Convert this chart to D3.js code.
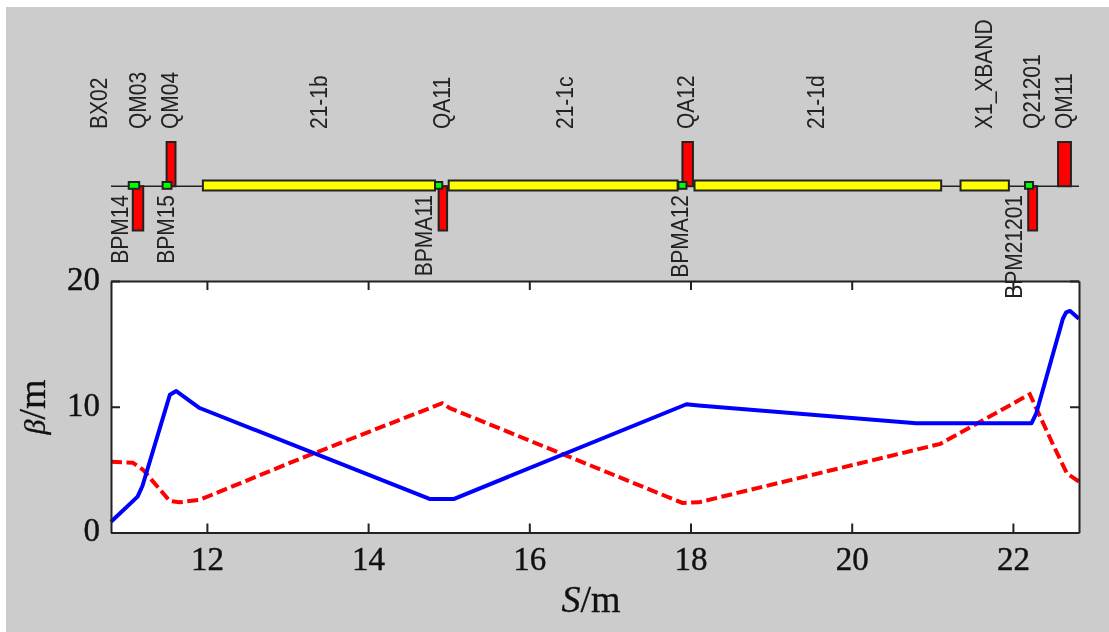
<!DOCTYPE html>
<html>
<head>
<meta charset="utf-8" />
<title>Beta functions</title>
<style>
    html, body { margin: 0; padding: 0; background: #fff; }
    svg { filter: blur(0.4px); }
    .tick text { font-family: "Liberation Serif", serif; font-size: 33px; fill: #111; stroke: #111; stroke-width: 0.4px; }
    .lab { font-family: "Liberation Sans", Arial, sans-serif; font-size: 21px; fill: #222; }
    .title { font-family: "Liberation Serif", serif; font-size: 38px; fill: #111; stroke: #111; stroke-width: 0.3px; }
</style>
</head>
<body>
<div id="graphic"></div>
<script src="https://cdn.jsdelivr.net/npm/d3@7"></script>
<script>
// beta x (blue)
var blueS = [10.81, 11.14, 11.2, 11.54, 11.62, 11.91, 14.77, 15.06, 17.95, 18.1, 20.8, 22.23, 22.29, 22.62, 22.66, 22.71, 22.82];
var blueB = [0.85, 2.85, 3.7, 10.95, 11.25, 9.9, 2.66, 2.66, 10.2, 10.1, 8.68, 8.68, 9.48, 17.0, 17.5, 17.62, 17.0];
// beta y (red dashed)
var redS = [10.81, 11.08, 11.21, 11.54, 11.66, 11.91, 13.15, 14.92, 15.01, 17.9, 18.1, 21.1, 22.21, 22.31, 22.5, 22.67, 22.82];
var redB = [5.63, 5.55, 4.97, 2.5, 2.4, 2.6, 5.85, 10.28, 9.9, 2.35, 2.4, 7.05, 11.0, 9.6, 6.96, 4.7, 4.05];

var xTicks = [12, 14, 16, 18, 20, 22];
var yTicks = [0, 10, 20];

// beamline elements, [start, end] in S
var yellowStart = [11.95, 15.0, 18.05, 21.35];
var yellowEnd = [14.83, 17.84, 21.11, 21.95];

var upStart = [11.50, 17.90, 22.56];
var upEnd = [11.61, 18.03, 22.72];

var downStart = [11.08, 14.875, 22.19];
var downEnd = [11.21, 14.98, 22.30];

var bpmNames = ["BPM14", "BPM15", "BPMA11", "BPMA12", "BPM21201"];
var bpmStart = [11.03, 11.45, 14.83, 17.85, 22.15];
var bpmEnd = [11.16, 11.56, 14.92, 17.95, 22.25];

// label positions along S
var topNames = ["BX02", "QM03", "QM04", "21-1b", "QA11", "21-1c", "QA12", "21-1d", "X1_XBAND", "Q21201", "QM11"];
var topS = [10.756, 11.25, 11.64, 13.485, 15.015, 16.54, 18.04, 19.655, 21.74, 22.335, 22.73];
var botS = [11.02, 11.59, 14.79, 17.97, 22.11];

var width = 1109, height = 632;
var left = 111, right = 1079, top_ = 281, bottom = 532.5;

var svg = d3.select("#graphic").append("svg")
    .attr("width", width)
    .attr("height", height)
    .style("display", "block");

svg.append("rect")
    .attr("x", 6).attr("y", 7)
    .attr("width", width - 6).attr("height", height - 7)
    .attr("fill", "#cccccc");

var x = d3.scaleLinear().domain([10.81, 22.82]).range([left, right]);
var y = d3.scaleLinear().domain([0, 20]).range([bottom, top_]);
// beamline strip, same S scale, arbitrary height units
var lineY = d3.scaleLinear().domain([-1, 1]).range([230.5, 142]);

svg.append("rect")
    .attr("x", left).attr("y", top_)
    .attr("width", right - left).attr("height", bottom - top_)
    .attr("fill", "#fff");

var line = d3.line()
    .x(function (d) { return x(d[0]); })
    .y(function (d) { return y(d[1]); });

svg.append("path")
    .attr("d", line(d3.zip(redS, redB)))
    .attr("fill", "none")
    .attr("stroke", "#ff0000")
    .attr("stroke-width", 4)
    .attr("stroke-dasharray", "11,4.5");

svg.append("path")
    .attr("d", line(d3.zip(blueS, blueB)))
    .attr("fill", "none")
    .attr("stroke", "#0000ff")
    .attr("stroke-width", 4)
    .attr("stroke-linejoin", "round");

// axes, ticks point inward on all four sides
function styleAxis(g) {
    g.select(".domain").attr("stroke", "#222").attr("stroke-width", 2);
    g.selectAll(".tick line").attr("stroke", "#222").attr("stroke-width", 2);
}

svg.append("g")
    .attr("transform", "translate(0," + bottom + ")")
    .call(d3.axisBottom(x).tickValues(xTicks).tickSize(-9).tickSizeOuter(0).tickPadding(14))
    .call(styleAxis);
svg.append("g")
    .attr("transform", "translate(0," + top_ + ")")
    .call(d3.axisTop(x).tickValues(xTicks).tickSize(-9).tickSizeOuter(0).tickFormat(""))
    .call(styleAxis);
svg.append("g")
    .attr("transform", "translate(" + left + ",0)")
    .call(d3.axisLeft(y).tickValues(yTicks).tickSize(-9).tickSizeOuter(0).tickPadding(11))
    .call(styleAxis)
    .selectAll("text").attr("dy", "0.25em");
svg.append("g")
    .attr("transform", "translate(" + right + ",0)")
    .call(d3.axisRight(y).tickValues(yTicks).tickSize(-9).tickSizeOuter(0).tickFormat(""))
    .call(styleAxis);

var xTitle = svg.append("text").attr("class", "title")
    .attr("x", 591).attr("y", 612).attr("text-anchor", "middle");
xTitle.append("tspan").attr("font-style", "italic").text("S");
xTitle.append("tspan").text("/m");

var yTitle = svg.append("text").attr("class", "title")
    .attr("transform", "translate(45,407) rotate(-90)")
    .attr("text-anchor", "middle");
yTitle.append("tspan").attr("font-style", "italic").attr("font-size", 30).text("β");
yTitle.append("tspan").text("/m");

// beamline
var strip = svg.append("g");
strip.append("line")
    .attr("x1", left).attr("x2", right)
    .attr("y1", lineY(0)).attr("y2", lineY(0))
    .attr("stroke", "#222").attr("stroke-width", 1.5);

function boxes(starts, ends, y0, y1, fill) {
    strip.selectAll(null)
        .data(d3.zip(starts, ends))
        .enter()
        .append("rect")
        .attr("x", function (d) { return x(d[0]); })
        .attr("width", function (d) { return x(d[1]) - x(d[0]); })
        .attr("y", y0)
        .attr("height", y1 - y0)
        .attr("fill", fill)
        .attr("stroke", "#222")
        .attr("stroke-width", 2);
}

boxes(upStart, upEnd, lineY(1), lineY(0), "#ff0000");
boxes(downStart, downEnd, lineY(0), lineY(-1), "#ff0000");
boxes(yellowStart, yellowEnd, 180.5, 190.5, "#ffff00");
boxes(bpmStart, bpmEnd, 182, 188.8, "#00ff00");

// labels are a bit wider across than tall in the original, hence the scale
svg.selectAll(null)
    .data(d3.zip(topNames, topS))
    .enter()
    .append("text")
    .attr("class", "lab")
    .attr("transform", function (d) { return "translate(" + x(d[1]) + ",129) rotate(-90) scale(1,1.1)"; })
    .text(function (d) { return d[0]; });

svg.selectAll(null)
    .data(d3.zip(bpmNames, botS))
    .enter()
    .append("text")
    .attr("class", "lab")
    .attr("text-anchor", "end")
    .attr("transform", function (d) { return "translate(" + x(d[1]) + ",195) rotate(-90) scale(1,1.1)"; })
    .text(function (d) { return d[0]; });
</script>
</body>
</html>
